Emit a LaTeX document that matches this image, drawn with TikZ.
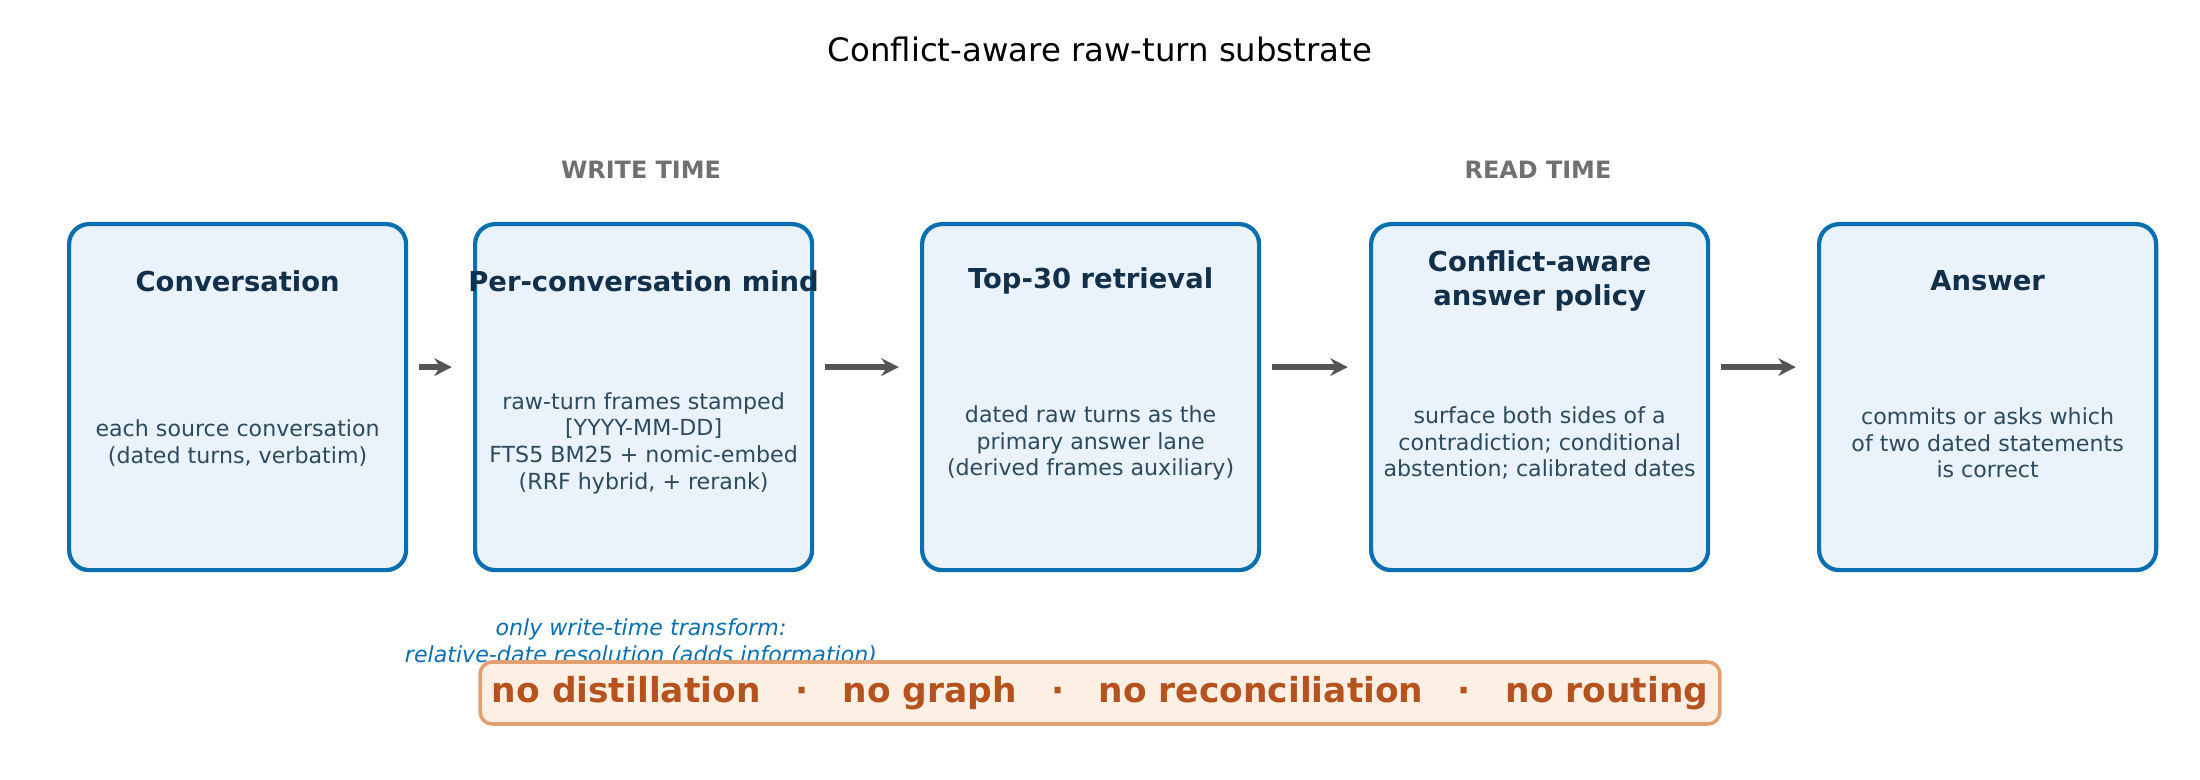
\documentclass[tikz,border=0pt]{standalone}
\usepackage{fontspec}
\setmainfont{DejaVu Sans}
\usetikzlibrary{arrows.meta}
\definecolor{boxfill}{HTML}{EAF2FB}
\definecolor{boxline}{HTML}{0A6FAF}
\definecolor{ttl}{HTML}{12304A}
\definecolor{bodyc}{HTML}{2E4A5E}
\definecolor{arr}{HTML}{555555}
\definecolor{hdr}{HTML}{707070}
\definecolor{note}{HTML}{0A6FAF}
\definecolor{banfill}{HTML}{FDEFE3}
\definecolor{banline}{HTML}{E0A070}
\definecolor{bantext}{HTML}{B5521E}
\tikzset{
 stagebox/.style={draw=boxline, fill=boxfill, line width=1.2pt, rounded corners=0.2cm, minimum width=3.37cm, minimum height=3.46cm, anchor=north west},
 boxtitle/.style={text=ttl, font=\fontsize{7.8}{9.6}\selectfont\bfseries, align=center},
 boxbody/.style={text=bodyc, font=\fontsize{6.3}{7.6}\selectfont, align=center},
 flow/.style={-{Stealth[length=5pt,width=5pt]}, draw=arr, line width=1.5pt},
 phase/.style={text=hdr, font=\fontsize{6.8}{8}\selectfont\bfseries}
}
\begin{document}
\begin{tikzpicture}
\useasboundingbox (0,0) rectangle (22,-7.8);
\node[font=\fontsize{9.2}{11}\selectfont] (title) at (11,-0.49) {Conflict-aware raw-turn substrate};
\node[phase] (wt) at (6.41,-1.70) {WRITE TIME};
\node[phase] (rt) at (15.38,-1.70) {READ TIME};
\foreach \n/\x in {b1/0.67,b2/4.73,b3/9.20,b4/13.69,b5/18.17}
  \node[stagebox] (\n) at (\x,-2.22) {};
\node[boxtitle] (t1) at ([yshift=-0.59cm]b1.north) {Conversation};
\node[boxtitle] (t2) at ([yshift=-0.59cm]b2.north) {Per-conversation mind};
\node[boxtitle] (t3) at ([yshift=-0.59cm]b3.north) {Top-30 retrieval};
\node[boxtitle] (t4) at ([yshift=-0.59cm]b4.north) {Conflict-aware\\answer policy};
\node[boxtitle] (t5) at ([yshift=-0.59cm]b5.north) {Answer};
\node[boxbody] (d1) at ([yshift=-2.21cm]b1.north) {each source conversation\\(dated turns, verbatim)};
\node[boxbody] (d2) at ([yshift=-2.21cm]b2.north) {raw-turn frames stamped\\{[}YYYY-MM-DD{]}\\FTS5 BM25 + nomic-embed\\(RRF hybrid, + rerank)};
\node[boxbody] (d3) at ([yshift=-2.21cm]b3.north) {dated raw turns as the\\primary answer lane\\(derived frames auxiliary)};
\node[boxbody] (d4) at ([yshift=-2.21cm]b4.north) {surface both sides of a\\contradiction; conditional\\abstention; calibrated dates};
\node[boxbody] (d5) at ([yshift=-2.21cm]b5.north) {commits or asks which\\of two dated statements\\is correct};
\draw[flow] ([xshift=3pt,yshift=0.3cm]b1.east) -- ([xshift=-6pt,yshift=0.3cm]b2.west);
\draw[flow] ([xshift=3pt,yshift=0.3cm]b2.east) -- ([xshift=-6pt,yshift=0.3cm]b3.west);
\draw[flow] ([xshift=3pt,yshift=0.3cm]b3.east) -- ([xshift=-6pt,yshift=0.3cm]b4.west);
\draw[flow] ([xshift=3pt,yshift=0.3cm]b4.east) -- ([xshift=-6pt,yshift=0.3cm]b5.west);
\node[text=note, font=\fontsize{6.3}{7.6}\selectfont\itshape, align=center] (nt) at (6.41,-6.42) {only write-time transform:\\relative-date resolution (adds information)};
\node[draw=banline, fill=banfill, line width=1pt, rounded corners=0.12cm, minimum width=11.36cm, minimum height=0.62cm, text=bantext, font=\fontsize{9.8}{12}\selectfont\bfseries] (ban) at (11,-6.93) {no distillation\quad\textperiodcentered\quad no graph\quad\textperiodcentered\quad no reconciliation\quad\textperiodcentered\quad no routing};
\end{tikzpicture}
\end{document}
